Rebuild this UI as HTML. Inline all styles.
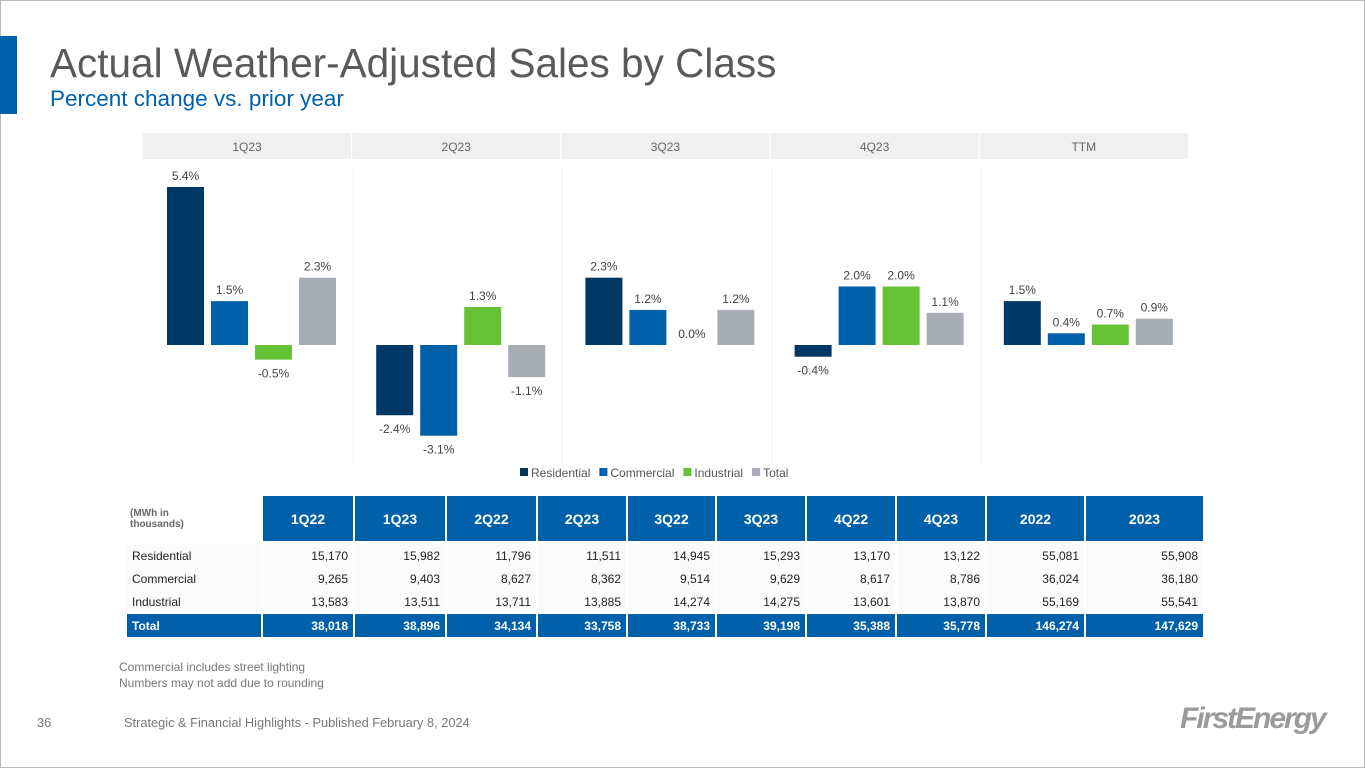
<!DOCTYPE html>
<html><head><meta charset="utf-8">
<style>
body{margin:0;width:1365px;height:768px;background:#fff;font-family:"Liberation Sans",Arial,sans-serif;position:relative;overflow:hidden}
.frame{position:absolute;left:0;top:0;width:1363px;height:766px;border:1px solid #bbb}
.accent{position:absolute;left:0;top:36px;width:17px;height:78px;background:#0060a9}
h1{position:absolute;left:50px;top:40px;margin:0;font-size:40.5px;font-weight:normal;color:#58595b}
.sub{position:absolute;left:50px;top:86px;font-size:22.5px;color:#0060a9}
table{position:absolute;left:125px;top:496px;border-collapse:separate;border-spacing:2px 0;font-size:12px;color:#222;table-layout:fixed}
td{height:23px;padding:0 5px;text-align:right;background:#fbfbfb;overflow:hidden;white-space:nowrap}
td.l{text-align:left;background:#fbfbfb}
th{background:#0060a9;color:#fff;height:45px;font-size:14px;font-weight:bold;border-bottom:3px solid #fff;padding:0}
th.l{background:#fff;color:#666;font-size:10px;text-align:left;padding-left:3px}
tr.tot td{background:#0060a9;color:#fff;font-weight:bold;border-top:1px solid #fff}
.note{position:absolute;left:119px;font-size:12px;color:#777}
.foot{position:absolute;top:715px;font-size:12.8px;color:#777}
</style></head><body>
<div class="frame"></div>
<div class="accent"></div>
<h1>Actual Weather-Adjusted Sales by Class</h1>
<div class="sub">Percent change vs. prior year</div>
<svg id="chart" width="1365" height="490" style="position:absolute;left:0;top:0"></svg>
<table>
<tr><th class="l" style="width:131px">(MWh in<br>thousands)</th><th style="width:90px">1Q22</th><th style="width:90px">1Q23</th><th style="width:89px">2Q22</th><th style="width:88px">2Q23</th><th style="width:87px">3Q22</th><th style="width:88px">3Q23</th><th style="width:88px">4Q22</th><th style="width:88px">4Q23</th><th style="width:97px">2022</th><th style="width:117px">2023</th></tr>
<tr><td class="l">Residential</td><td>15,170</td><td>15,982</td><td>11,796</td><td>11,511</td><td>14,945</td><td>15,293</td><td>13,170</td><td>13,122</td><td>55,081</td><td>55,908</td></tr>
<tr><td class="l">Commercial</td><td>9,265</td><td>9,403</td><td>8,627</td><td>8,362</td><td>9,514</td><td>9,629</td><td>8,617</td><td>8,786</td><td>36,024</td><td>36,180</td></tr>
<tr><td class="l">Industrial</td><td>13,583</td><td>13,511</td><td>13,711</td><td>13,885</td><td>14,274</td><td>14,275</td><td>13,601</td><td>13,870</td><td>55,169</td><td>55,541</td></tr>
<tr class="tot"><td class="l">Total</td><td>38,018</td><td>38,896</td><td>34,134</td><td>33,758</td><td>38,733</td><td>39,198</td><td>35,388</td><td>35,778</td><td>146,274</td><td>147,629</td></tr>
</table>
<div class="note" style="top:660px">Commercial includes street lighting</div>
<div class="note" style="top:676px">Numbers may not add due to rounding</div>
<div class="foot" style="left:37px">36</div>
<div class="foot" style="left:124px">Strategic &amp; Financial Highlights - Published February 8, 2024</div>
<div style="position:absolute;left:1180px;top:702px;font-size:30px;font-style:italic;font-weight:bold;color:#9a9a9a;letter-spacing:-2px">FirstEnergy</div>
<script>
const periods=["1Q23","2Q23","3Q23","4Q23","TTM"];
const seriesNames=["Residential","Commercial","Industrial","Total"];
const residential=[5.4,-2.4,2.3,-0.4,1.5];
const commercial=[1.5,-3.1,1.2,2.0,0.4];
const industrial=[-0.5,1.3,0.0,2.0,0.7];
const total=[2.3,-1.1,1.2,1.1,0.9];
const colors=["#003865","#0060a9","#66c235","#a8adb5"];
const NS="http://www.w3.org/2000/svg";
const svg=document.getElementById('chart');
const zeroY=345, pxPer=29.26;
const y=v=>zeroY-v*pxPer;
function mk(t,a){const e=document.createElementNS(NS,t);for(const k in a)e.setAttribute(k,a[k]);svg.appendChild(e);return e;}
const series=[residential,commercial,industrial,total];
periods.forEach((p,i)=>{
  const px=143+i*209.2;
  const h=mk('rect',{x:px,y:133,width:208,height:26,fill:'#f0f0f0'});
  
  
  const t=mk('text',{x:px+104,y:151,'text-anchor':'middle','font-size':12,fill:'#666'});t.textContent=p;
  
  
  if(i>0){const l=mk('line',{x1:px+1,x2:px+1,y1:168,y2:463,stroke:'#f0f0f0'});
  
  }
  series.forEach((s,j)=>{
    const v=s[i];const bx=px+24+j*44;
    const r=mk('rect',{x:bx,y:Math.min(y(v),zeroY),width:37,height:Math.abs(v)*pxPer,fill:colors[j]});
    
    
    const ly=v>=0?y(v)-7:zeroY+Math.abs(v)*pxPer+18;
    const tl=mk('text',{x:bx+18.5,y:ly,'text-anchor':'middle','font-size':12,fill:'#444'});
    tl.textContent=v.toFixed(1)+'%';
    
    
  });
});
let lx=520;
seriesNames.forEach((n,j)=>{
  const r=mk('rect',{x:lx,y:468,width:8,height:8,fill:colors[j]});
  
  
  const t=mk('text',{x:lx+11,y:477,'font-size':12,fill:'#555'});t.textContent=n;
  
  
  lx+=11+t.getComputedTextLength()+9;
});
</script>
</body></html>
